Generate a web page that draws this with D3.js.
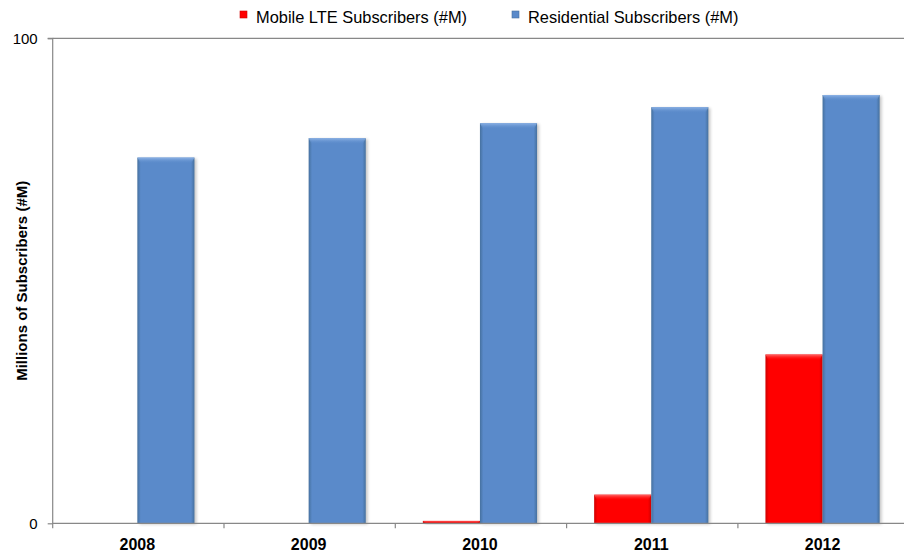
<!DOCTYPE html>
<html>
<head>
<meta charset="utf-8">
<script src="https://cdn.jsdelivr.net/npm/d3@7"></script>
<style>
  html, body { margin: 0; padding: 0; background: #fff; }
  svg { display: block; font-family: "Liberation Sans", Arial, sans-serif; }
</style>
</head>
<body>
<svg id="chart" width="904" height="555"></svg>
<script>
const years = ["2008", "2009", "2010", "2011", "2012"];
const seriesNames = ["Mobile LTE Subscribers (#M)", "Residential Subscribers (#M)"];
const mobileLTE = [0, 0, 0.5, 5.9, 34.8];
const residential = [75.4, 79.4, 82.5, 85.8, 88.3];
const yTicks = [0, 100];
const colors = ["#FF0000", "#5A8ACA"];
const topColors = ["#FF6A6A", "#8DB3E6"];
const edgeColors = ["#D00000", "#46719F"];

const svg = d3.select("#chart");
const defs = svg.append("defs");

const mLeft = 52.7, mRight = 909.2, mTop = 38.3, mBottom = 523.3;

const x = d3.scaleBand().domain(years).range([mLeft, mRight]).paddingInner(0).paddingOuter(0);
const bw = x.bandwidth();
const x1 = d3.scaleBand().domain(seriesNames).range([bw / 6 - 1, bw * 5 / 6 - 1]).padding(0);
const y = d3.scaleLinear().domain([0, 100]).range([mBottom, mTop]);

const f = defs.append("filter").attr("id", "shadow").attr("x", "-20%").attr("y", "-20%").attr("width", "140%").attr("height", "140%");
f.append("feGaussianBlur").attr("stdDeviation", 1.6);

colors.forEach((c, i) => {
  const gh = defs.append("linearGradient").attr("id", "edge" + i).attr("x1", 0).attr("x2", 1).attr("y1", 0).attr("y2", 0);
  gh.append("stop").attr("offset", 0).attr("stop-color", edgeColors[i]);
  gh.append("stop").attr("offset", 0.06).attr("stop-color", c);
  gh.append("stop").attr("offset", 0.94).attr("stop-color", c);
  gh.append("stop").attr("offset", 1).attr("stop-color", edgeColors[i]);
  const gv = defs.append("linearGradient").attr("id", "topg" + i).attr("x1", 0).attr("x2", 0).attr("y1", 0).attr("y2", 1);
  gv.append("stop").attr("offset", 0).attr("stop-color", topColors[i]).attr("stop-opacity", 1);
  gv.append("stop").attr("offset", 1).attr("stop-color", c).attr("stop-opacity", 0);
});

svg.append("line")
  .attr("x1", mLeft).attr("x2", 904)
  .attr("y1", y(100)).attr("y2", y(100))
  .attr("stroke", "#888").attr("stroke-width", 1.2);

const data = years.map((yr, i) => ({ year: yr, values: [mobileLTE[i], residential[i]] }));

const groups = svg.append("g").selectAll("g").data(data).join("g")
  .attr("transform", d => `translate(${x(d.year)},0)`);

groups.each(function (d) {
  const g = d3.select(this);
  d.values.forEach((v, i) => {
    if (v <= 0) return;
    const bx = x1(seriesNames[i]);
    const w = x1.bandwidth();
    const by = y(v);
    const h = y(0) - y(v);
    g.append("rect")
      .attr("x", bx + 2).attr("y", by + 1).attr("width", w).attr("height", h)
      .attr("fill", "#000").attr("opacity", 0.22).attr("filter", "url(#shadow)");
    g.append("rect")
      .attr("x", bx).attr("y", by).attr("width", w).attr("height", h)
      .attr("fill", "url(#edge" + i + ")");
    const th = Math.min(6, h);
    g.append("path")
      .attr("d", `M${bx},${by} L${bx + w},${by} L${bx + w - 3},${by + th} L${bx + 3},${by + th} Z`)
      .attr("fill", "url(#topg" + i + ")");
  });
});

const yAxis = d3.axisLeft(y).tickValues(yTicks).tickSize(5).tickPadding(10).tickFormat(d3.format("d"));
const ya = svg.append("g").attr("transform", `translate(${mLeft},0)`).call(yAxis);
ya.select(".domain").attr("stroke", "#888").attr("stroke-width", 1.2).attr("d", `M-5,${mTop}H0V${mBottom + 5}`);
ya.selectAll(".tick line").attr("stroke", "#888").attr("stroke-width", 1.2);
ya.selectAll(".tick text").attr("font-size", 15).attr("fill", "#000")
  .attr("font-family", "'Liberation Sans', Arial, sans-serif");

const xAxis = d3.axisBottom(x).tickSize(0).tickPadding(0);
const xa = svg.append("g").attr("transform", `translate(0,${mBottom})`).call(xAxis);
xa.select(".domain").attr("stroke", "#888").attr("stroke-width", 1.2).attr("d", `M${mLeft},0H904`);
xa.selectAll(".tick text").attr("font-size", 16).attr("font-weight", "bold").attr("fill", "#000")
  .attr("font-family", "'Liberation Sans', Arial, sans-serif")
  .attr("dy", null).attr("y", 27).attr("dx", -1);
xa.append("g").selectAll("line").data(years.slice(1)).join("line")
  .attr("x1", d => x(d)).attr("x2", d => x(d)).attr("y1", 0).attr("y2", 5)
  .attr("stroke", "#888").attr("stroke-width", 1.2);

svg.append("text")
  .attr("transform", `translate(27,${(mTop + mBottom) / 2}) rotate(-90)`)
  .attr("text-anchor", "middle")
  .attr("font-size", 15).attr("font-weight", "bold").attr("fill", "#000")
  .text("Millions of Subscribers (#M)");

const legendX = [240, 512];
const legend = svg.append("g").selectAll("g").data(seriesNames).join("g")
  .attr("transform", (d, i) => `translate(${legendX[i]},0)`);
legend.append("rect").attr("x", 0).attr("y", 11).attr("width", 7).attr("height", 7)
  .attr("fill", (d, i) => colors[i]).attr("stroke", (d, i) => edgeColors[i]).attr("stroke-width", 0.6);
legend.append("text").attr("x", 16).attr("y", 22.5)
  .attr("font-size", 16.4).attr("fill", "#000")
  .text(d => d);
</script>
</body>
</html>
